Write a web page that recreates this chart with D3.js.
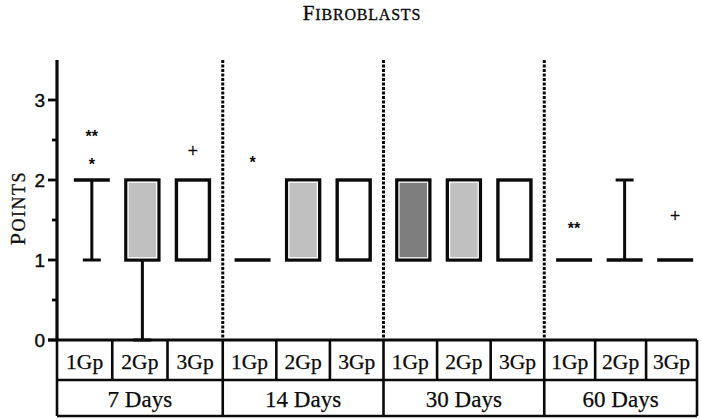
<!DOCTYPE html>
<html><head><meta charset="utf-8">
<script src="https://cdn.jsdelivr.net/npm/d3@7"></script>
<style>body{margin:0;background:#fff}svg{display:block}</style>
</head><body><svg id="c" width="701" height="419"></svg>
<script>
const days = ["7 Days", "14 Days", "30 Days", "60 Days"];
const groups = ["1Gp", "2Gp", "3Gp"];
// box stats per day (rows) and group (cols): [min, q1, median, q3, max]
const stats7  = [[1, 2, 2, 2, 2], [0, 1, 2, 2, 2], [1, 1, 2, 2, 2]];
const stats14 = [[1, 1, 1, 1, 1], [1, 1, 2, 2, 2], [1, 1, 2, 2, 2]];
const stats30 = [[1, 1, 2, 2, 2], [1, 1, 2, 2, 2], [1, 1, 2, 2, 2]];
const stats60 = [[1, 1, 1, 1, 1], [1, 1, 1, 1, 2], [1, 1, 1, 1, 1]];
const fills7 = ["none", "#c0c0c0", "#ffffff"];
const fills14 = ["none", "#c0c0c0", "#ffffff"];
const fills30 = ["#7e7e7e", "#c0c0c0", "#ffffff"];
const fills60 = ["none", "none", "none"];
// significance markers
const markerDay = ["7 Days", "7 Days", "7 Days", "14 Days", "60 Days", "60 Days"];
const markerGroup = ["1Gp", "1Gp", "3Gp", "1Gp", "1Gp", "3Gp"];
const markerText = ["**", "*", "+", "*", "**", "+"];
const markerValue = [2.62, 2.28, 2.37, 2.3, 1.48, 1.56];
const yTicks = [0, 1, 2, 3];
const yMinorTicks = [0.5, 1.5, 2.5];

const allStats = [stats7, stats14, stats30, stats60];
const allFills = [fills7, fills14, fills30, fills60];

const svg = d3.select("#c");
const x0 = d3.scaleBand().domain(days).range([62, 705]).padding(0);
const x1 = d3.scalePoint().domain(groups).range([0, x0.bandwidth()]).padding(0.59);
const y = d3.scaleLinear().domain([0, 3.5]).range([340, 60]);
const boxW = 33, capW = 18;
const axisLeft = 57, tableRight = 697;
const ink = "#0a0a0a";
const serif = "Liberation Serif, Times New Roman, serif";

// title (small caps)
const title = svg.append("text").attr("x", 362).attr("y", 20).attr("text-anchor", "middle")
  .attr("font-family", serif).attr("fill", ink).attr("stroke", ink).attr("stroke-width", 0.35)
  .attr("letter-spacing", 0.8);
title.append("tspan").attr("font-size", 21).text("F");
title.append("tspan").attr("font-size", 23.5).style("font-variant", "small-caps").text("ibroblasts");

// y label (small caps)
const yl = svg.append("text").attr("transform", "translate(25,208) rotate(-90)").attr("text-anchor", "middle")
  .attr("font-family", serif).attr("fill", ink).attr("stroke", ink).attr("stroke-width", 0.3)
  .attr("letter-spacing", 1.5);
yl.append("tspan").attr("font-size", 22).text("P");
yl.append("tspan").attr("font-size", 25).style("font-variant", "small-caps").text("oints");

// dividers (midway between neighbouring day groups)
const dividers = days.slice(1).map((d, i) => (x0(days[i]) + x1("3Gp") + x0(d) + x1("1Gp")) / 2);
svg.selectAll(".div").data(dividers).enter().append("line")
  .attr("x1", d => d).attr("x2", d => d).attr("y1", y(3.5)).attr("y2", y(0))
  .attr("stroke", ink).attr("stroke-width", 3).attr("stroke-dasharray", "3,1.5");

// boxes
const items = [];
days.forEach((d, i) => groups.forEach((g, j) => {
  const s = allStats[i][j];
  items.push({day: d, grp: g, min: s[0], q1: s[1], med: s[2], q3: s[3], max: s[4], fill: allFills[i][j]});
}));
const gb = svg.selectAll(".box").data(items).enter().append("g")
  .attr("transform", d => `translate(${x0(d.day) + x1(d.grp)},0)`);
gb.each(function(d) {
  const g = d3.select(this);
  const ln = (x1_, x2_, y1_, y2_, w) => g.append("line").attr("x1", x1_).attr("x2", x2_).attr("y1", y1_).attr("y2", y2_).attr("stroke", ink).attr("stroke-width", w);
  if (d.min < d.q1) { ln(0, 0, y(d.q1), y(d.min), 3); ln(-capW/2, capW/2, y(d.min), y(d.min), 3); }
  if (d.max > d.q3) { ln(0, 0, y(d.q3), y(d.max), 3); ln(-capW/2, capW/2, y(d.max), y(d.max), 3); }
  if (d.q3 > d.q1) {
    g.append("rect").attr("x", -boxW/2).attr("y", y(d.q3)).attr("width", boxW).attr("height", y(d.q1) - y(d.q3))
      .attr("fill", d.fill === "none" ? "#fff" : d.fill).attr("stroke", ink).attr("stroke-width", 3.4);
    if (d.fill !== "#ffffff" && d.fill !== "none") {
      g.append("rect").attr("x", -boxW/2 + 2.2).attr("y", y(d.q3) + 2.2).attr("width", boxW - 4.4).attr("height", y(d.q1) - y(d.q3) - 4.4)
        .attr("fill", "none").attr("stroke", "#fff").attr("stroke-width", 1.2);
    }
  } else {
    ln(-boxW/2 - 1.5, boxW/2 + 1.5, y(d.q1), y(d.q1), 3.4);
  }
});

// markers
svg.selectAll(".mk").data(markerText).enter().append("text")
  .attr("x", (d, i) => x0(markerDay[i]) + x1(markerGroup[i]))
  .attr("y", (d, i) => y(markerValue[i]))
  .attr("dy", d => d === "+" ? "0.35em" : "0.75em")
  .attr("text-anchor", "middle")
  .attr("font-family", d => d === "+" ? "Liberation Serif, serif" : "Liberation Sans, Arial, sans-serif")
  .attr("font-weight", d => d === "+" ? "normal" : "bold")
  .attr("font-size", d => d === "+" ? 18 : 16)
  .attr("stroke", d => d === "+" ? ink : "none").attr("stroke-width", 0.4)
  .attr("fill", ink).text(d => d);

// y axis
const axisG = svg.append("g").attr("transform", `translate(${axisLeft},0)`);
axisG.append("line").attr("x1", 0).attr("x2", 0).attr("y1", y(3.5)).attr("y2", y(0)).attr("stroke", ink).attr("stroke-width", 3.2);
axisG.selectAll(".mj").data(yTicks).enter().append("line")
  .attr("x1", -9).attr("x2", 0).attr("y1", d => y(d)).attr("y2", d => y(d)).attr("stroke", ink).attr("stroke-width", 2.8);
axisG.selectAll(".mn").data(yMinorTicks).enter().append("line")
  .attr("x1", -5).attr("x2", 0).attr("y1", d => y(d)).attr("y2", d => y(d)).attr("stroke", ink).attr("stroke-width", 2.8);
axisG.selectAll(".tl").data(yTicks).enter().append("text")
  .attr("x", -12).attr("y", d => y(d)).attr("dy", "0.36em").attr("text-anchor", "end")
  .attr("font-family", "Liberation Sans, Arial, sans-serif").attr("font-size", 19)
  .attr("stroke", ink).attr("stroke-width", 0.4).attr("fill", ink).text(d => d);

// table
const gEdges = [axisLeft, ...dividers, tableRight];
const tTop = y(0), tMid = 380, tBot = 416;
const tl = (a, b, c, e, w) => svg.append("line").attr("x1", a).attr("x2", b).attr("y1", c).attr("y2", e).attr("stroke", ink).attr("stroke-width", w);
tl(axisLeft - 9, tableRight, tTop, tTop, 3.2);
tl(axisLeft, tableRight, tMid, tMid, 2.6);
tl(axisLeft, tableRight, tBot, tBot, 2.6);
const cells = [];
days.forEach((d, i) => {
  const a = gEdges[i], b = gEdges[i + 1], w = (b - a) / 3;
  groups.forEach((g, j) => cells.push({label: g, x: a + j * w, w: w}));
  svg.append("text").attr("x", (a + b) / 2).attr("y", (tMid + tBot) / 2 + 1).attr("dy", "0.35em").attr("text-anchor", "middle")
    .attr("font-family", serif).attr("font-size", 23)
    .attr("stroke", ink).attr("stroke-width", 0.25).attr("fill", ink).text(d);
  tl(a, a, tTop, tBot, 2.6);
});
tl(tableRight, tableRight, tTop, tBot, 2.6);
cells.forEach((c, k) => {
  if (k % 3 !== 0) tl(c.x, c.x, tTop, tMid, 2.6);
  svg.append("text").attr("x", c.x + c.w / 2).attr("y", (tTop + tMid) / 2 + 1).attr("dy", "0.35em").attr("text-anchor", "middle")
    .attr("font-family", serif).attr("font-size", 21.5)
    .attr("stroke", ink).attr("stroke-width", 0.25).attr("fill", ink).text(c.label);
});
</script></body></html>
